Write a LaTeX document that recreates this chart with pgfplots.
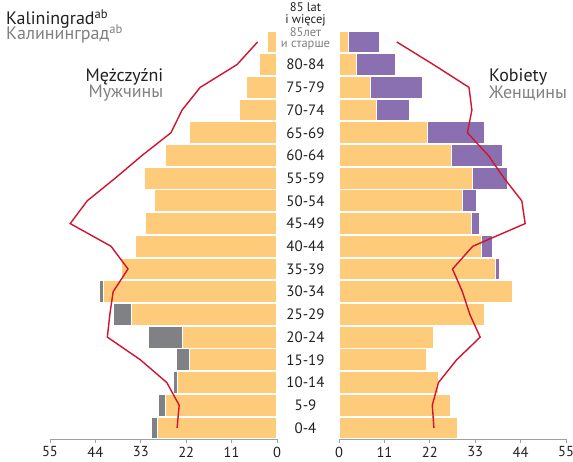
\documentclass[border=0pt]{standalone}
\usepackage{fontspec}
\setmainfont{PT Sans}
\usepackage{pgfplots}
\pgfplotsset{compat=1.18}

\definecolor{barorange}{HTML}{FDCB7A}
\definecolor{bargray}{HTML}{808184}
\definecolor{barpurple}{HTML}{8A70B0}
\definecolor{linered}{HTML}{D2132E}
\definecolor{txtgray}{HTML}{808080}
\definecolor{txtdark}{HTML}{231F20}
\definecolor{axgray}{HTML}{A0A0A0}

\newcommand\oldest{\raisebox{12pt}[0pt][0pt]{\fontsize{12.5}{11.5}\selectfont
  \begin{tabular}{@{}c@{}}85 lat\\ i więcej\\ \textcolor{txtgray}{85лет}\\ \textcolor{txtgray}{и старше}\end{tabular}}}

\pgfplotsset{
  pyr/.style={
    anchor=south west, scale only axis, width=227pt, height=408.7pt,
    xmin=0, xmax=55, ymin=-0.5, ymax=17.5, clip=false,
    axis x line*=bottom, axis y line*=left,
    y axis line style={draw=none}, x axis line style={axgray, line width=0.8pt},
    xtick={0,11,22,33,44,55}, tick align=outside,
    major x tick style={axgray, line width=0.8pt}, major tick length=4pt,
    major y tick style={draw=none},
    xticklabel style={font=\fontsize{14.5}{16}\selectfont, text=txtdark},
    /pgf/number format/assume math mode=true,
  },
  bars/.style={xbar, bar width=21.8pt, bar shift=0pt, draw=white, line width=1pt},
  redline/.style={linered, line width=1.4pt, mark=none},
}

\begin{document}
\begin{tikzpicture}
\useasboundingbox (0,0) rectangle (573pt,461pt);

% men
\begin{axis}[pyr, at={(50pt,21.7pt)}, x dir=reverse, ytick=\empty]
\addplot[bars, fill=bargray] coordinates {
 (30.3,0) (28.7,1) (25.0,2) (24.3,3) (31.1,4) (39.6,5) (43.1,6)};
\addplot[bars, fill=barorange] coordinates {
 (28.9,0) (27.0,1) (24.1,2) (21.3,3) (23.0,4) (35.3,5) (42.0,6) (37.6,7) (34.3,8)
 (31.9,9) (29.7,10) (32.1,11) (27.0,12) (21.2,13) (9.1,14) (7.5,15) (4.2,16) (2.2,17)};
\addplot[redline] coordinates {
 (24.2,0) (23.7,1) (26.7,2) (33.1,3) (41.1,4) (40.5,5) (39.7,6) (36.1,7) (40.2,8)
 (50.1,9) (46.0,10) (39.2,11) (32.7,12) (25.7,13) (23.0,14) (18.6,15) (9.7,16) (4.7,17)};
\end{axis}

% women
\begin{axis}[pyr, at={(339pt,21.7pt)},
  ytick={0,...,17},
  yticklabels={0-4,5-9,10-14,15-19,20-24,25-29,30-34,35-39,40-44,45-49,50-54,55-59,60-64,65-69,70-74,75-79,80-84,\oldest},
  yticklabel style={anchor=center, xshift=-29.5pt, font=\fontsize{15}{16}\selectfont, text=txtdark},
]
\addplot[bars, fill=barpurple] coordinates {
 (38.8,7) (37.1,8) (34.0,9) (33.3,10) (40.8,11) (39.5,12) (35.3,13) (17.0,14)
 (20.2,15) (13.6,16) (9.7,17)};
\addplot[bars, fill=barorange] coordinates {
 (28.8,0) (26.9,1) (24.0,2) (21.2,3) (22.9,4) (35.2,5) (42.1,6) (37.9,7) (34.6,8)
 (32.1,9) (30.0,10) (32.3,11) (27.3,12) (21.4,13) (9.0,14) (7.6,15) (4.3,16) (2.3,17)};
\addplot[redline] coordinates {
 (23.0,0) (22.6,1) (24.1,2) (28.5,3) (34.2,4) (31.7,5) (29.9,6) (27.5,7) (32.4,8)
 (45.1,9) (44.3,10) (40.0,11) (36.2,12) (31.1,13) (32.2,14) (31.5,15) (22.9,16) (14.0,17)};
\end{axis}

\node[anchor=base west, inner sep=0pt, text=txtdark, font=\fontsize{18}{20}\selectfont]
  at (6pt,436pt) {Kaliningrad\textsuperscript{ab}};
\node[anchor=base west, inner sep=0pt, text=txtgray, font=\fontsize{18}{20}\selectfont]
  at (6pt,421.7pt) {Калининград\textsuperscript{ab}};
\node[anchor=base east, inner sep=0pt, text=txtdark, font=\fontsize{18}{20}\selectfont]
  at (163.5pt,379.7pt) {Mężczyźni};
\node[anchor=base east, inner sep=0pt, text=txtgray, font=\fontsize{18}{20}\selectfont]
  at (163.5pt,363.3pt) {Мужчины};
\node[anchor=base west, inner sep=0pt, text=txtdark, font=\fontsize{18}{20}\selectfont]
  at (489pt,379.3pt) {Kobiety};
\node[anchor=base west, inner sep=0pt, text=txtgray, font=\fontsize{18}{20}\selectfont]
  at (489pt,362.7pt) {Женщины};
\end{tikzpicture}
\end{document}
